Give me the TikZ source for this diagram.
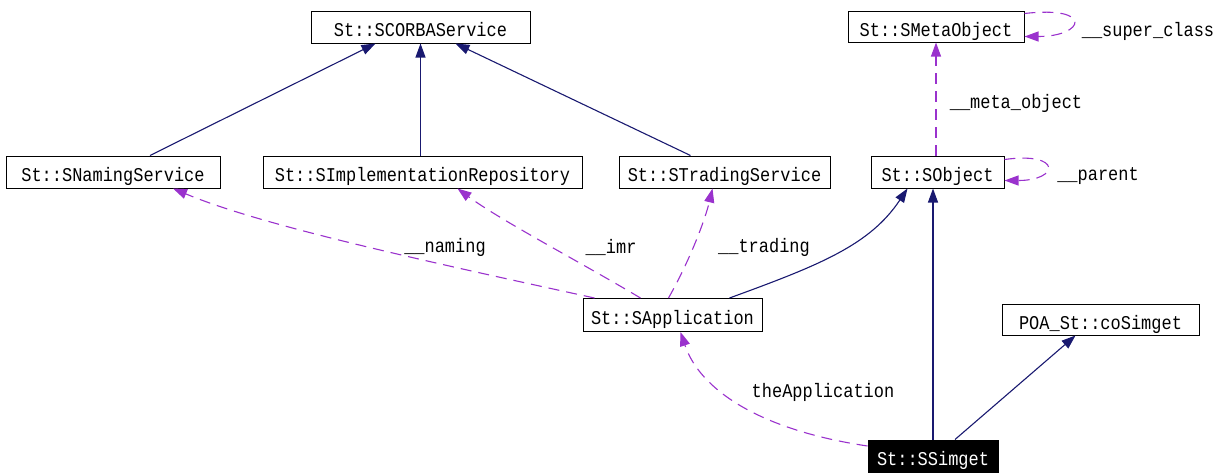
\documentclass[tikz,border=0pt]{standalone}
\usepackage{fontspec}
\setmainfont{Liberation Mono}[FakeStretch=0.87]
\usetikzlibrary{arrows.meta}
\definecolor{navy}{HTML}{191970}
\definecolor{orchid}{HTML}{9A32CD}
\begin{document}
\begin{tikzpicture}[x=1pt, y=-1pt,
    every node/.style={font=\fontsize{19.5}{22}\selectfont, inner sep=0pt},
    cls/.style={draw, line width=1pt, minimum height=32pt, text height=19pt, text depth=0pt},
    inherit/.style={navy, line width=1.1pt, -{Triangle[length=14pt,width=10pt]}},
    member/.style={orchid, line width=1.1pt, dash pattern=on 11pt off 7pt,
                   -{Triangle[length=14pt,width=10pt]}}]
  \useasboundingbox (0,0) rectangle (1221,472);
  \node[cls, minimum width=219pt] (corba) at (420.5,27) {St::SCORBAService};
  \node[cls, minimum width=176pt, minimum height=31pt] (meta) at (936,26.5) {St::SMetaObject};
  \node[cls, minimum width=214pt] (naming) at (113,172) {St::SNamingService};
  \node[cls, minimum width=319pt] (impl) at (422.5,172) {St::SImplementationRepository};
  \node[cls, minimum width=211pt] (trading) at (724.5,172) {St::STradingService};
  \node[cls, minimum width=133pt] (sobject) at (937.5,172) {St::SObject};
  \node[cls, minimum width=179pt, minimum height=33pt] (app) at (672.5,315) {St::SApplication};
  \node[cls, minimum width=197pt, minimum height=31pt] (poa) at (1100.5,319.5) {POA\_St::coSimget};
  \node[cls, minimum width=130pt, fill=black, text=white] (simget) at (933,456) {St::SSimget};
  \node (lsuper) at (1148,31) {\_\_super\_class};
  \node (lmeta) at (1016,103) {\_\_meta\_object};
  \node (lparent) at (1098,176) {\_\_parent};
  \node (lnaming) at (445,247) {\_\_naming};
  \node (limr) at (611,247) {\_\_imr};
  \node (ltrading) at (764,247) {\_\_trading};
  \node (ltheapp) at (823,392) {theApplication};
  \draw[inherit] ([xshift=37pt]naming.north) -- ([xshift=-45pt]corba.south);
  \draw[inherit] (impl.north -| corba.south) -- (corba.south);
  \draw[inherit] ([xshift=-34pt]trading.north) -- ([xshift=35pt]corba.south);
  \draw[inherit] ([xshift=57pt]app.north) .. controls (820,265) and (870,245) .. ([xshift=-30pt]sobject.south);
  \draw[inherit] (simget.north) -- (simget.north |- sobject.south);
  \draw[inherit] ([xshift=22pt]simget.north) -- ([xshift=-25pt]poa.south);
  \draw[member] ([xshift=-78pt]app.north) .. controls (420,260) and (260,225) .. ([xshift=60pt]naming.south);
  \draw[member] ([xshift=-32pt]app.north) .. controls (580,262) and (500,220) .. ([xshift=35pt]impl.south);
  \draw[member] ([xshift=-4pt]app.north) .. controls (690,260) and (705,220) .. ([xshift=-12pt]trading.south);
  \draw[member] ([yshift=10pt]simget.west) .. controls (760,430) and (700,390) .. ([xshift=8pt]app.south);
  \draw[member] (sobject.north -| meta.south) -- (meta.south);
  \draw[member] ([yshift=-4pt]sobject.north east) .. controls +(58,-8) and +(55,0) .. ([yshift=8pt]sobject.south east);
  \draw[member] ([yshift=-3pt]meta.north east) .. controls +(70,-8) and +(60,0) .. ([yshift=6pt]meta.south east);
\end{tikzpicture}
\end{document}
